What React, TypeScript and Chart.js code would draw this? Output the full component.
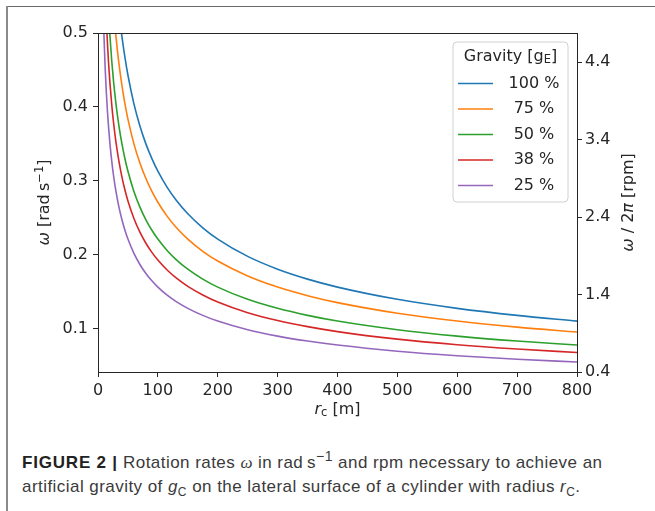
import React, { useEffect, useRef } from "react";
import { Chart, registerables } from "chart.js";

Chart.register(...registerables);

// Radius r_c [m]
const RADIUS = [5, 6, 7, 8, 9, 10, 12, 14, 16, 18, 20, 23, 26, 30, 35, 40, 45, 50, 60, 70, 80, 90, 100, 115, 130, 150, 175, 200, 250, 300, 350, 400, 500, 600, 700, 800];

// Rotation rate ω [rad/s] per gravity level
const G100 = [1.4007, 1.2787, 1.1838, 1.1074, 1.044, 0.9905, 0.9042, 0.8371, 0.783, 0.7382, 0.7004, 0.6531, 0.6143, 0.5718, 0.5294, 0.4952, 0.4669, 0.4429, 0.4043, 0.3744, 0.3502, 0.3302, 0.3132, 0.2921, 0.2747, 0.2557, 0.2368, 0.2215, 0.1981, 0.1808, 0.1674, 0.1566, 0.1401, 0.1279, 0.1184, 0.1107];
const G75 = [1.2131, 1.1074, 1.0252, 0.959, 0.9042, 0.8578, 0.783, 0.725, 0.6781, 0.6393, 0.6065, 0.5656, 0.532, 0.4952, 0.4585, 0.4289, 0.4043, 0.3836, 0.3502, 0.3242, 0.3033, 0.2859, 0.2713, 0.2529, 0.2379, 0.2215, 0.205, 0.1918, 0.1716, 0.1566, 0.145, 0.1356, 0.1213, 0.1107, 0.1025, 0.0959];
const G50 = [0.9904, 0.9042, 0.8371, 0.783, 0.7382, 0.7004, 0.6393, 0.5919, 0.5537, 0.522, 0.4952, 0.4618, 0.4343, 0.4043, 0.3743, 0.3502, 0.3301, 0.3132, 0.2859, 0.2647, 0.2476, 0.2334, 0.2215, 0.2065, 0.1942, 0.1808, 0.1674, 0.1566, 0.1401, 0.1279, 0.1184, 0.1107, 0.099, 0.0904, 0.0837, 0.0783];
const G38 = [0.8635, 0.7882, 0.7298, 0.6826, 0.6436, 0.6106, 0.5574, 0.516, 0.4827, 0.4551, 0.4317, 0.4026, 0.3787, 0.3525, 0.3264, 0.3053, 0.2878, 0.2731, 0.2493, 0.2308, 0.2159, 0.2035, 0.1931, 0.18, 0.1693, 0.1576, 0.146, 0.1365, 0.1221, 0.1115, 0.1032, 0.0965, 0.0863, 0.0788, 0.073, 0.0683];
const G25 = [0.7003, 0.6393, 0.5919, 0.5537, 0.522, 0.4952, 0.4521, 0.4185, 0.3915, 0.3691, 0.3502, 0.3265, 0.3071, 0.2859, 0.2647, 0.2476, 0.2334, 0.2215, 0.2022, 0.1872, 0.1751, 0.1651, 0.1566, 0.146, 0.1373, 0.1279, 0.1184, 0.1107, 0.099, 0.0904, 0.0837, 0.0783, 0.07, 0.0639, 0.0592, 0.0554];

const SERIES = [G100, G75, G50, G38, G25];
const SERIES_LABELS = ["100 %", "75 %", "50 %", "38 %", "25 %"];
const COLORS = ["#1f77b4", "#ff7f0e", "#2ca02c", "#d62728", "#9467bd"];

const X_TICKS = [0, 100, 200, 300, 400, 500, 600, 700, 800];
const LEFT_TICKS = [0.1, 0.2, 0.3, 0.4, 0.5];
const RIGHT_TICKS = [0.4, 1.4, 2.4, 3.4, 4.4];
const OMEGA_MIN = 0.041888;
const OMEGA_MAX = 0.5;
const RPM_MIN = 0.4;
const RPM_MAX = 4.7746;

const FONT = "DejaVu Sans";
const INK = "#262626";

type Piece = { t: string; f: string; dy?: number };

function drawPieces(ctx: CanvasRenderingContext2D, pieces: Piece[], cx: number, cy: number) {
  let total = 0;
  for (const p of pieces) {
    ctx.font = p.f;
    total += ctx.measureText(p.t).width;
  }
  let x = cx - total / 2;
  ctx.textBaseline = "middle";
  ctx.textAlign = "left";
  for (const p of pieces) {
    ctx.font = p.f;
    ctx.fillText(p.t, x, cy + (p.dy || 0));
    x += ctx.measureText(p.t).width;
  }
}

const decorPlugin = {
  id: "decor",
  afterDraw(chart: any) {
    const ctx: CanvasRenderingContext2D = chart.ctx;
    const a = chart.chartArea;
    ctx.save();
    // frame
    ctx.strokeStyle = INK;
    ctx.lineWidth = 1;
    ctx.strokeRect(Math.round(a.left) + 0.5, Math.round(a.top) + 0.5, Math.round(a.right - a.left), Math.round(a.bottom - a.top));
    ctx.fillStyle = INK;
    const N = `16px ${FONT}`;
    const I = `italic 16px ${FONT}`;
    const S = `11.5px ${FONT}`;
    // x title
    drawPieces(ctx, [
      { t: "r", f: I },
      { t: "c", f: S, dy: 3 },
      { t: " [m]", f: N },
    ], (a.left + a.right) / 2, 410);
    // left title
    ctx.save();
    ctx.translate(45, (a.top + a.bottom) / 2);
    ctx.rotate(-Math.PI / 2);
    drawPieces(ctx, [
      { t: "ω", f: I },
      { t: " [rad\u2009s", f: N },
      { t: "−1", f: S, dy: -5 },
      { t: "]", f: N },
    ], 0, 0);
    ctx.restore();
    // right title
    ctx.save();
    ctx.translate(629, (a.top + a.bottom) / 2);
    ctx.rotate(-Math.PI / 2);
    drawPieces(ctx, [
      { t: "ω", f: I },
      { t: " / 2", f: N },
      { t: "π", f: I },
      { t: " [rpm]", f: N },
    ], 0, 0);
    ctx.restore();
    // legend
    const bx = 453, by = 42, bw = 115, bh = 160, r = 4;
    ctx.beginPath();
    ctx.moveTo(bx + r, by);
    ctx.arcTo(bx + bw, by, bx + bw, by + bh, r);
    ctx.arcTo(bx + bw, by + bh, bx, by + bh, r);
    ctx.arcTo(bx, by + bh, bx, by, r);
    ctx.arcTo(bx, by, bx + bw, by, r);
    ctx.closePath();
    ctx.fillStyle = "rgba(255,255,255,0.8)";
    ctx.fill();
    ctx.strokeStyle = "#d0d0d0";
    ctx.lineWidth = 1;
    ctx.stroke();
    ctx.fillStyle = INK;
    drawPieces(ctx, [
      { t: "Gravity [g", f: N },
      { t: "E", f: S, dy: 3 },
      { t: "]", f: N },
    ], 510.5, 57);
    chart.data.datasets.forEach((ds: any, i: number) => {
      const y = 83.5 + i * 25.5;
      ctx.strokeStyle = ds.borderColor;
      ctx.lineWidth = 1.6;
      ctx.beginPath();
      ctx.moveTo(458, y);
      ctx.lineTo(493, y);
      ctx.stroke();
      ctx.fillStyle = INK;
      ctx.font = N;
      ctx.textAlign = "center";
      ctx.textBaseline = "middle";
      ctx.fillText(ds.label, 534, y);
    });
    ctx.restore();
  },
};

export default function App() {
  const ref = useRef<HTMLCanvasElement | null>(null);
  useEffect(() => {
    if (!ref.current) return;
    const tickFont = { family: FONT, size: 16 };
    const chart = new Chart(ref.current, {
      type: "line",
      data: {
        datasets: SERIES.map((s, i) => ({
          label: SERIES_LABELS[i],
          data: RADIUS.map((x, j) => ({ x, y: s[j] })),
          borderColor: COLORS[i],
          backgroundColor: COLORS[i],
          borderWidth: 1.6,
          pointRadius: 0,
          cubicInterpolationMode: "monotone" as const,
          yAxisID: "y",
        })),
      },
      options: {
        animation: false,
        responsive: false,
        events: [],
        layout: { padding: { top: 33, left: 0, right: 0, bottom: 0 } },
        plugins: { legend: { display: false }, tooltip: { enabled: false } },
        scales: {
          x: {
            type: "linear",
            min: 0,
            max: 800,
            afterBuildTicks: (s: any) => { s.ticks = X_TICKS.map((v) => ({ value: v })); },
            afterFit: (s: any) => { s.height = 68; },
            ticks: { font: tickFont, color: INK, padding: 4, maxRotation: 0, autoSkip: false, callback: (v: any) => String(v) },
            grid: { drawOnChartArea: false, drawTicks: true, tickLength: 5, color: INK },
            border: { display: true, color: INK },
          },
          y: {
            type: "linear",
            position: "left",
            min: OMEGA_MIN,
            max: OMEGA_MAX,
            afterBuildTicks: (s: any) => { s.ticks = LEFT_TICKS.map((v) => ({ value: v })); },
            afterFit: (s: any) => { s.width = 98; },
            ticks: { font: tickFont, color: INK, padding: 5, autoSkip: false, callback: (v: any) => Number(v).toFixed(1) },
            grid: { drawOnChartArea: false, drawTicks: true, tickLength: 5, color: INK },
            border: { display: true, color: INK },
          },
          y2: {
            type: "linear",
            position: "right",
            display: true,
            min: RPM_MIN,
            max: RPM_MAX,
            afterBuildTicks: (s: any) => { s.ticks = RIGHT_TICKS.map((v) => ({ value: v })); },
            afterFit: (s: any) => { s.width = 78; },
            ticks: { font: tickFont, color: INK, padding: 3, autoSkip: false, callback: (v: any) => Number(v).toFixed(1) },
            grid: { drawOnChartArea: false, drawTicks: true, tickLength: 5, color: INK },
            border: { display: true, color: INK },
          },
        },
      },
      plugins: [decorPlugin],
    } as any);
    return () => chart.destroy();
  }, []);

  const cap: React.CSSProperties = {
    position: "absolute",
    left: 22,
    top: 451,
    fontFamily: "'Liberation Sans', Arial, sans-serif",
    fontSize: 17,
    letterSpacing: "0.45px",
    lineHeight: "24px",
    color: "#3a3a3a",
    whiteSpace: "nowrap",
  };

  return (
    <div style={{ position: "absolute", left: 0, top: 0, width: 655, height: 511, background: "#fff", overflow: "hidden" }}>
      <div style={{ position: "absolute", left: 7, top: 6, width: 648, height: 1, background: "#6a6a6a" }} />
      <div style={{ position: "absolute", left: 6, top: 6, width: 2, height: 505, background: "#8a8a8a" }} />
      <canvas ref={ref} width={655} height={440} style={{ position: "absolute", left: 0, top: 0, width: 655, height: 440 }} />
      <div style={cap}>
        <b style={{ color: "#222", letterSpacing: "0.8px" }}>FIGURE 2 |</b> Rotation rates <i style={{ fontFamily: "'Liberation Serif', serif" }}>ω</i> in rad&#8201;s<sup style={{ fontSize: 14, lineHeight: 0 }}>−1</sup> and rpm necessary to achieve an
        <br />
        artificial gravity of <i>g</i><sub style={{ fontSize: 12, lineHeight: 0 }}>C</sub> on the lateral surface of a cylinder with radius <i>r</i><sub style={{ fontSize: 12, lineHeight: 0 }}>C</sub>.
      </div>
    </div>
  );
}
